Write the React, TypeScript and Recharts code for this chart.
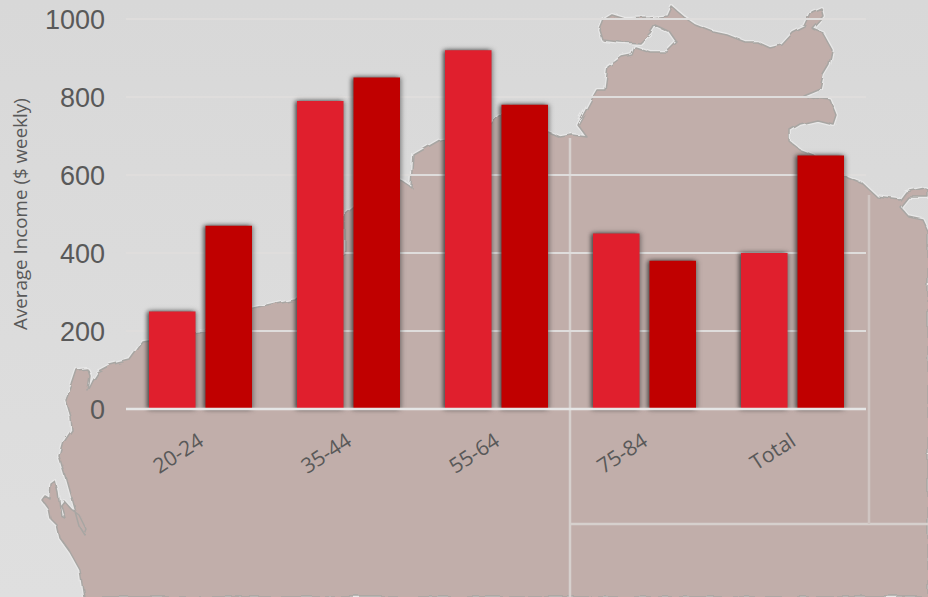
import { Bar, BarChart, CartesianGrid, XAxis, YAxis } from "recharts";

const ageGroups = ["20-24", "35-44", "55-64", "75-84", "Total"];
const lightBars = [250, 790, 920, 450, 400];
const darkBars = [470, 850, 780, 380, 650];
const yTicks = [0, 200, 400, 600, 800, 1000];

const rows = ageGroups.map((group, i) => ({ group, light: lightBars[i], dark: darkBars[i] }));

// rough outline of the northern half of the map behind the chart
const coast =
    "M84 597 L80 570 L70 552 L60 538 L57 525 L50 518 L48 508 L42 500 L45 496 L50 499 L51 484 L55 481 L58 493 L61 516 L65 518 L61 505 L64 501 L72 510 L80 516 L87 530 L85 535 L80 527 L74 505 L67 480 L60 457 L64 442 L72 430 L71 417 L66 400 L72 385 L77 370 L87 369 L89 375 L87 390 L92 380 L97 372 L110 365 L130 360 L143 342 L200 333 L250 310 L295 300 L330 270 L345 250 L345 215 L380 185 L400 180 L412 188 L414 155 L440 140 L480 135 L510 105 L548 132 L560 137 L572 135 L587 137 L578 125 L585 112 L593 97 L597 90 L605 90 L608 67 L622 57 L632 55 L635 47 L650 52 L667 52 L677 42 L670 32 L655 25 L650 33 L640 43 L620 42 L603 40 L600 30 L604 20 L612 15 L625 19 L650 18 L668 16 L672 7 L685 18 L695 25 L713 32 L727 35 L745 42 L757 42 L770 48 L782 45 L793 33 L805 27 L812 12 L821 8 L823 16 L812 28 L822 32 L832 50 L829 65 L823 75 L820 88 L803 95 L815 98 L830 100 L836 115 L833 124 L817 120 L800 124 L790 130 L790 142 L800 150 L813 155 L847 177 L862 183 L877 197 L900 200 L906 192 L925 188 L928 190 L928 197 L908 197 L900 207 L908 216 L922 219 L928 232 L928 597 Z";

function BackgroundMap() {
    return (
        <svg width={928} height={597} style={{ position: "absolute", left: 0, top: 0 }}>
            <defs>
                <linearGradient id="page" x1="0" y1="0" x2="0" y2="1">
                    <stop offset="0" stopColor="#d8d8d8" />
                    <stop offset="1" stopColor="#dfdfdf" />
                </linearGradient>
                <filter id="rough" x="-5%" y="-5%" width="110%" height="110%">
                    <feTurbulence type="fractalNoise" baseFrequency="0.06" numOctaves={2} seed={4} />
                    <feDisplacementMap in="SourceGraphic" scale={6} />
                    <feGaussianBlur stdDeviation={0.5} />
                </filter>
            </defs>
            <rect width={928} height={597} fill="url(#page)" />
            <g filter="url(#rough)">
                <path d={coast} fill="none" stroke="#e8e8e8" strokeWidth={4} strokeLinejoin="round" />
                <path d={coast} fill="#c1aeaa" stroke="#a8a6a3" strokeWidth={1.5} strokeLinejoin="round" />
            </g>
            <line x1={570} y1={138} x2={570} y2={597} stroke="#d6d0cd" strokeWidth={2.5} />
            <line x1={570} y1={524} x2={928} y2={524} stroke="#d6d0cd" strokeWidth={2.5} />
            <line x1={869} y1={195} x2={869} y2={524} stroke="#d0c5c2" strokeWidth={2.5} />
        </svg>
    );
}

const barShadow = {
    filter: "drop-shadow(-2px 0 2px rgba(40,40,40,0.7)) drop-shadow(2px 0 2px rgba(60,60,60,0.4))",
};

export default function App() {
    return (
        <div style={{ position: "absolute", left: 0, top: 0, width: 928, height: 597, overflow: "hidden" }}>
            <BackgroundMap />
            <div style={{ position: "absolute", left: 0, top: 0 }}>
                <BarChart
                    width={928}
                    height={597}
                    data={rows}
                    barSize={46.5}
                    barGap={10}
                    margin={{ top: 19, right: 62, bottom: 0, left: 0 }}
                >
                    <CartesianGrid vertical={false} stroke="#dfdddc" strokeWidth={2} />
                    <XAxis
                        dataKey="group"
                        height={188}
                        interval={0}
                        angle={-33}
                        textAnchor="end"
                        tickLine={false}
                        axisLine={{ stroke: "#e6e6e6", strokeWidth: 2.5 }}
                        tickMargin={17}
                        dx={-3}
                        tick={{ fill: "#595959", fontFamily: "Open Sans", fontSize: 21 }}
                    />
                    <YAxis
                        width={126}
                        domain={[0, 1000]}
                        ticks={yTicks}
                        tickLine={false}
                        axisLine={false}
                        tickMargin={15}
                        tick={{ fill: "#595959", fontFamily: "Liberation Sans", fontSize: 27 }}
                        label={{
                            value: "Average Income ($ weekly)",
                            angle: -90,
                            position: "insideLeft",
                            dx: 15,
                            dy: 116,
                            fill: "#595959",
                            fontFamily: "Open Sans",
                            fontSize: 18.8,
                        }}
                    />
                    <Bar dataKey="light" fill="#e01f2d" isAnimationActive={false} style={barShadow} />
                    <Bar dataKey="dark" fill="#c00000" isAnimationActive={false} style={barShadow} />
                </BarChart>
            </div>
        </div>
    );
}
